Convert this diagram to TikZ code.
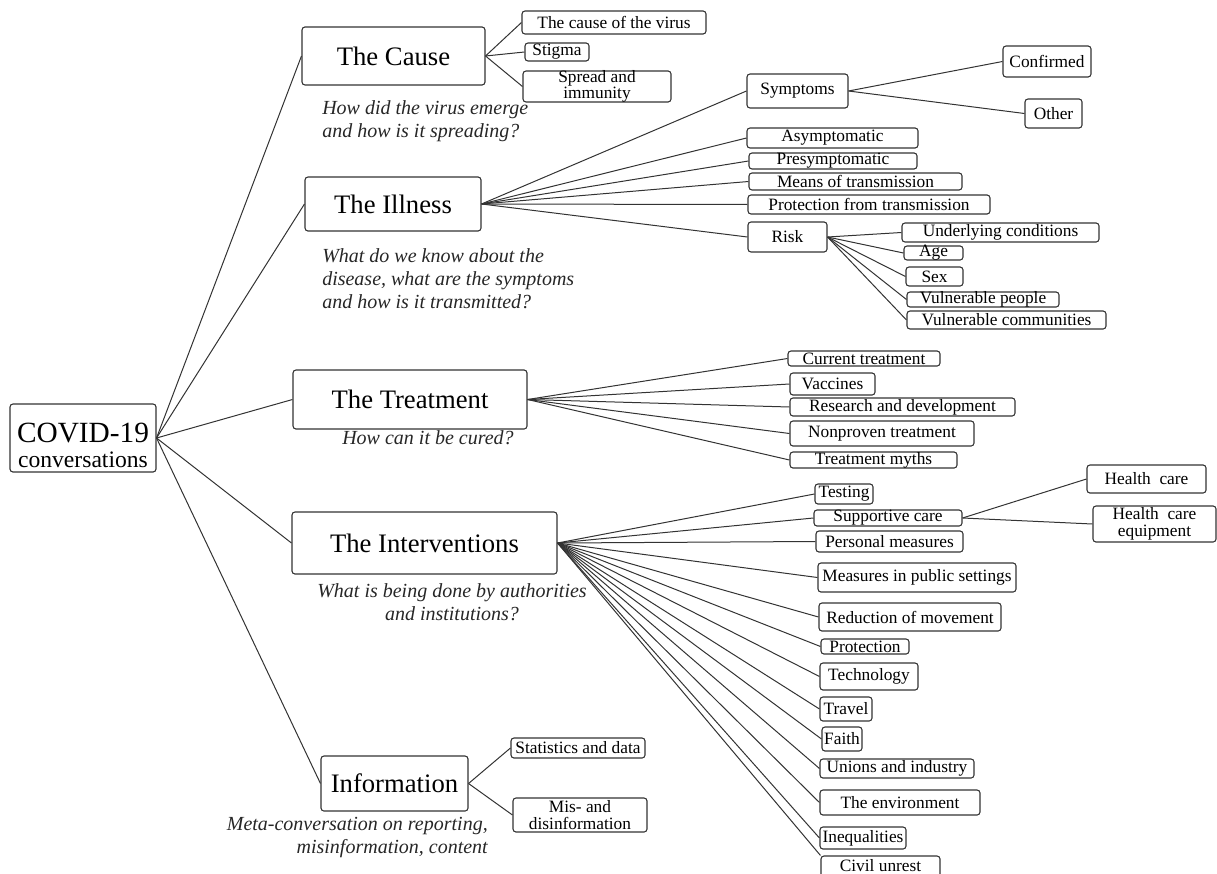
\documentclass[tikz,border=0pt]{standalone}
\usepackage{fontspec}
\setmainfont{Liberation Serif}
\tikzset{
 box/.style={draw=black!80, line width=0.8pt, rounded corners=2.2pt, inner sep=0pt},
 lbl/.style={font=\fontsize{13}{12.5}\selectfont, align=center, inner sep=0pt, text=black},
 big/.style={font=\fontsize{20}{22}\selectfont, align=center, inner sep=0pt, text=black},
 qtext/.style={font=\fontsize{15}{17.4}\selectfont\itshape, inner sep=0pt, text=black!85},
 ln/.style={draw=black!80, line width=0.75pt},
}
\newcommand\bx[7][lbl]{\node[box,minimum width={(#4-#2)*0.75pt},minimum height={(#5-#3)*0.75pt}] (#6) at ({(#2+#4)/2},{(#3+#5)/2}) {}; \node[#1] (#6t) at (#6.center) {#7};}
\begin{document}
\begin{tikzpicture}[x=0.75pt,y=-0.75pt]
\useasboundingbox (0,0) rectangle (1217,874);
% root
\node[box,minimum width={146*0.75pt},minimum height={68*0.75pt}] (root) at (83,438) {};
\node[inner sep=0pt,font=\fontsize{22}{22}\selectfont] (roott1) at (83,433.5) {COVID-19};
\node[inner sep=0pt,font=\fontsize{17.7}{18}\selectfont] (roott2) at (83,460) {conversations};
% main topics
\bx[big]{302}{27}{485}{85}{cause}{The Cause}
\bx[big]{305}{177}{481}{231}{ill}{The Illness}
\bx[big]{293}{370}{527}{429}{treat}{The Treatment}
\bx[big]{292}{512}{557}{574}{interv}{The Interventions}
\bx[big]{321}{756}{468}{811}{info}{Information}
% questions
\node[qtext,anchor=west,align=left] (q1) at (322,121.5) {How did the virus emerge\\and how is it spreading?};
\node[qtext,anchor=west,align=left] (q2) at (322,278.5) {What do we know about the\\disease, what are the symptoms\\and how is it transmitted?};
\node[qtext] (q3) at (428,438) {How can it be cured?};
\node[qtext,align=center] (q4) at (452,602.5) {What is being done by authorities\\and institutions?};
\node[qtext,anchor=east,align=right] (q5) at (488,837.5) {Meta-conversation on reporting,\\misinformation, content};
% cause children
\bx{522}{11}{706}{34}{c1}{The cause of the virus}
\bx{525}{43}{589}{61}{c2}{Stigma}
\bx{523}{71}{671}{102}{c3}{Spread and\\immunity}
% illness children
\bx{747}{74}{848}{108}{symp}{Symptoms}
\bx{1003}{46}{1091}{77}{conf}{Confirmed}
\bx{1025}{99}{1082}{128}{other}{Other}
\bx{747}{128}{918}{148}{asym}{Asymptomatic}
\bx{749}{153}{917}{169}{presym}{Presymptomatic}
\bx{749}{173}{962}{190}{means}{Means of transmission}
\bx{748}{195}{990}{214}{protf}{Protection from transmission}
\bx{748}{222}{827}{252}{risk}{Risk}
\bx{902}{223}{1099}{242}{under}{Underlying conditions}
\bx{904}{246}{963}{260}{age}{Age}
\bx{906}{267}{963}{286}{sex}{Sex}
\bx{907}{292}{1059}{307}{vpeople}{Vulnerable people}
\bx{907}{311}{1106}{329}{vcomm}{Vulnerable communities}
% treatment children
\bx{788}{351}{940}{366}{cur}{Current treatment}
\bx{790}{373}{875}{395}{vac}{Vaccines}
\bx{790}{398}{1015}{416}{rnd}{Research and development}
\bx{790}{421}{974}{446}{nonp}{Nonproven treatment}
\bx{790}{452}{957}{468}{myth}{Treatment myths}
% interventions children
\bx{815}{484}{873}{504}{test}{Testing}
\bx{814}{510}{962}{526}{supp}{Supportive care}
\bx{1087}{465}{1206}{493}{hc}{Health~ care}
\bx{1093}{506}{1216}{542}{hce}{Health~ care\\equipment}
\bx{816}{531}{963}{552}{pers}{Personal measures}
\bx{818}{563}{1016}{592}{pub}{Measures in public settings}
\bx{819}{603}{1001}{631}{red}{Reduction of movement}
\bx{821}{639}{909}{654}{protn}{Protection}
\bx{820}{663}{918}{690}{tech}{Technology}
\bx{820}{697}{872}{721}{trav}{Travel}
\bx{822}{727}{862}{751}{faith}{Faith}
\bx{820}{759}{974}{778}{union}{Unions and industry}
\bx{820}{790}{980}{815}{env}{The environment}
\bx{820}{827}{906}{849}{ineq}{Inequalities}
\node[box,minimum width={119*0.75pt},minimum height={28*0.75pt}] (civil) at (880.5,870) {};
\node[lbl] (civilt) at (880.5,866) {Civil unrest};
% information children
\bx{511}{738}{645}{758}{stat}{Statistics and data}
\bx{513}{798}{647}{832}{mis}{Mis- and\\disinformation}
% connectors
\foreach \t in {cause,ill,treat,interv,info} \draw[ln] (root.east) -- (\t.west);
\foreach \t in {c1,c2,c3} \draw[ln] (cause.east) -- (\t.west);
\foreach \t in {symp,asym,presym,means,protf,risk} \draw[ln] (ill.east) -- (\t.west);
\foreach \t in {conf,other} \draw[ln] (symp.east) -- (\t.west);
\foreach \t in {under,age,sex,vpeople,vcomm} \draw[ln] (risk.east) -- (\t.west);
\foreach \t in {cur,vac,rnd,nonp,myth} \draw[ln] (treat.east) -- (\t.west);
\foreach \t in {test,supp,pers,pub,red,protn,tech,trav,faith,union,env,ineq} \draw[ln] (interv.east) -- (\t.west);
\draw[ln] (interv.east) -- (civil.north west);
\foreach \t in {hc,hce} \draw[ln] (supp.east) -- (\t.west);
\foreach \t in {stat,mis} \draw[ln] (info.east) -- (\t.west);
\end{tikzpicture}
\end{document}
